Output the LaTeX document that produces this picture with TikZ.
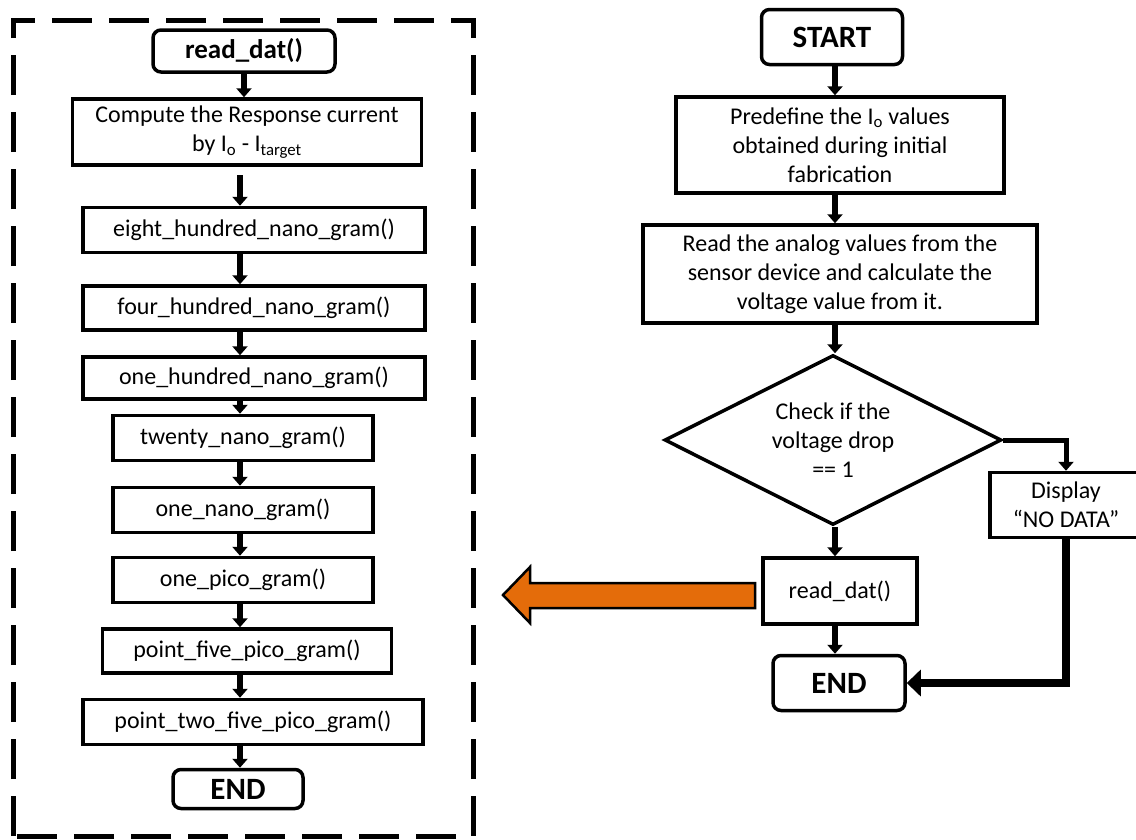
\documentclass[tikz,border=0pt]{standalone}
\usepackage{fontspec}
\setmainfont{Carlito}
\usetikzlibrary{shapes.geometric,arrows.meta}
\definecolor{orng}{HTML}{E46C0A}
\begin{document}
\begin{tikzpicture}[x=1pt,y=-1pt,
 box/.style={draw,line width=3.5pt,inner sep=0pt,align=center,font=\fontsize{24}{29}\selectfont},
 term/.style={box,rounded corners=8pt,font=\fontsize{31}{36}\selectfont\bfseries},
 arr/.style={line width=6pt,-{Triangle[width=15pt,length=9pt]}},
]
\useasboundingbox (0,0) rectangle (1136,839);
\draw[line width=5pt,dash pattern=on 40pt off 17pt] (13,836) -- (13,20) -- (473,20) -- (473,836) -- cycle;
\coordinate (xl) at (240,0);
\coordinate (xr) at (835,0);
% left column
\node[term,minimum width=182pt,minimum height=42pt,font=\fontsize{27}{32}\selectfont\bfseries] (r0) at (244,51) {read\_dat()};
\node[box,minimum width=349pt,minimum height=66pt] (cmp) at (247,132) {Compute the Response current\\by I\textsubscript{o} - I\textsubscript{target}};
\node[box,minimum width=342pt,minimum height=45pt] (eight) at (254,230) {eight\_hundred\_nano\_gram()};
\node[box,minimum width=342pt,minimum height=44pt] (four) at (254,308) {four\_hundred\_nano\_gram()};
\node[box,minimum width=342pt,minimum height=42pt] (hund) at (254,378) {one\_hundred\_nano\_gram()};
\node[box,minimum width=260pt,minimum height=45pt] (twenty) at (243,438) {twenty\_nano\_gram()};
\node[box,minimum width=260pt,minimum height=45pt] (nano) at (243,510) {one\_nano\_gram()};
\node[box,minimum width=260pt,minimum height=45pt] (pico) at (243,580) {one\_pico\_gram()};
\node[box,minimum width=289pt,minimum height=44pt] (pfive) at (247,651) {point\_five\_pico\_gram()};
\node[box,minimum width=340pt,minimum height=45pt] (ptwo) at (253,722) {point\_two\_five\_pico\_gram()};
\node[term,minimum width=130pt,minimum height=39pt] (end1) at (238,789) {END};
\draw[arr] (r0.south) -- (r0.south |- cmp.north);
\coordinate (cgap) at (240,175);
\draw[arr] (cgap) -- (eight.north -| xl);
\draw[arr] (eight.south -| xl) -- (four.north -| xl);
\draw[arr] (four.south -| xl) -- (hund.north -| xl);
\draw[arr] (hund.south -| xl) -- (twenty.north -| xl);
\draw[arr] (twenty.south -| xl) -- (nano.north -| xl);
\draw[arr] (nano.south -| xl) -- (pico.north -| xl);
\draw[arr] (pico.south -| xl) -- (pfive.north -| xl);
\draw[arr] (pfive.south -| xl) -- (ptwo.north -| xl);
\draw[arr] (ptwo.south -| xl) -- (end1.north -| xl);
% right column
\node[term,minimum width=141pt,minimum height=55pt] (start) at (832,37) {START};
\node[box,minimum width=328pt,minimum height=96pt] (pre) at (840,145) {Predefine the I\textsubscript{o} values\\obtained during initial\\fabrication};
\node[box,minimum width=394pt,minimum height=98pt] (rd0) at (840,274) {Read the analog values from the\\sensor device and calculate the\\voltage value from it.};
\node[box,diamond,aspect=2,minimum width=337pt,minimum height=170pt] (dia) at (833,440) {Check if the\\voltage drop\\== 1};
\node[box,minimum width=152pt,minimum height=65pt] (disp) at (1066,505) {Display\\“NO DATA”};
\node[box,minimum width=154pt,minimum height=66pt] (rd) at (840,591) {read\_dat()};
\node[term,minimum width=132pt,minimum height=55pt] (end2) at (839,683) {END};
\draw[arr] (start.south -| xr) -- (pre.north -| xr);
\draw[arr] (pre.south -| xr) -- (rd0.north -| xr);
\draw[arr] (rd0.south -| xr) -- (dia.north -| xr);
\draw[arr] (dia.south -| xr) -- (rd.north -| xr);
\draw[arr] (rd.south -| xr) -- (end2.north -| xr);
\draw[arr,line width=5pt] (dia.east) -| (disp.north);
\draw[line width=8pt,-{Triangle[width=26pt,length=14pt]}] (disp.south) |- (end2.east);
% orange arrow
\draw[fill=orng,line width=2.5pt,line join=miter] (755,583) -- (530,583) -- (530,567) -- (503,595) -- (530,623) -- (530,608) -- (755,608) -- cycle;
\end{tikzpicture}
\end{document}
